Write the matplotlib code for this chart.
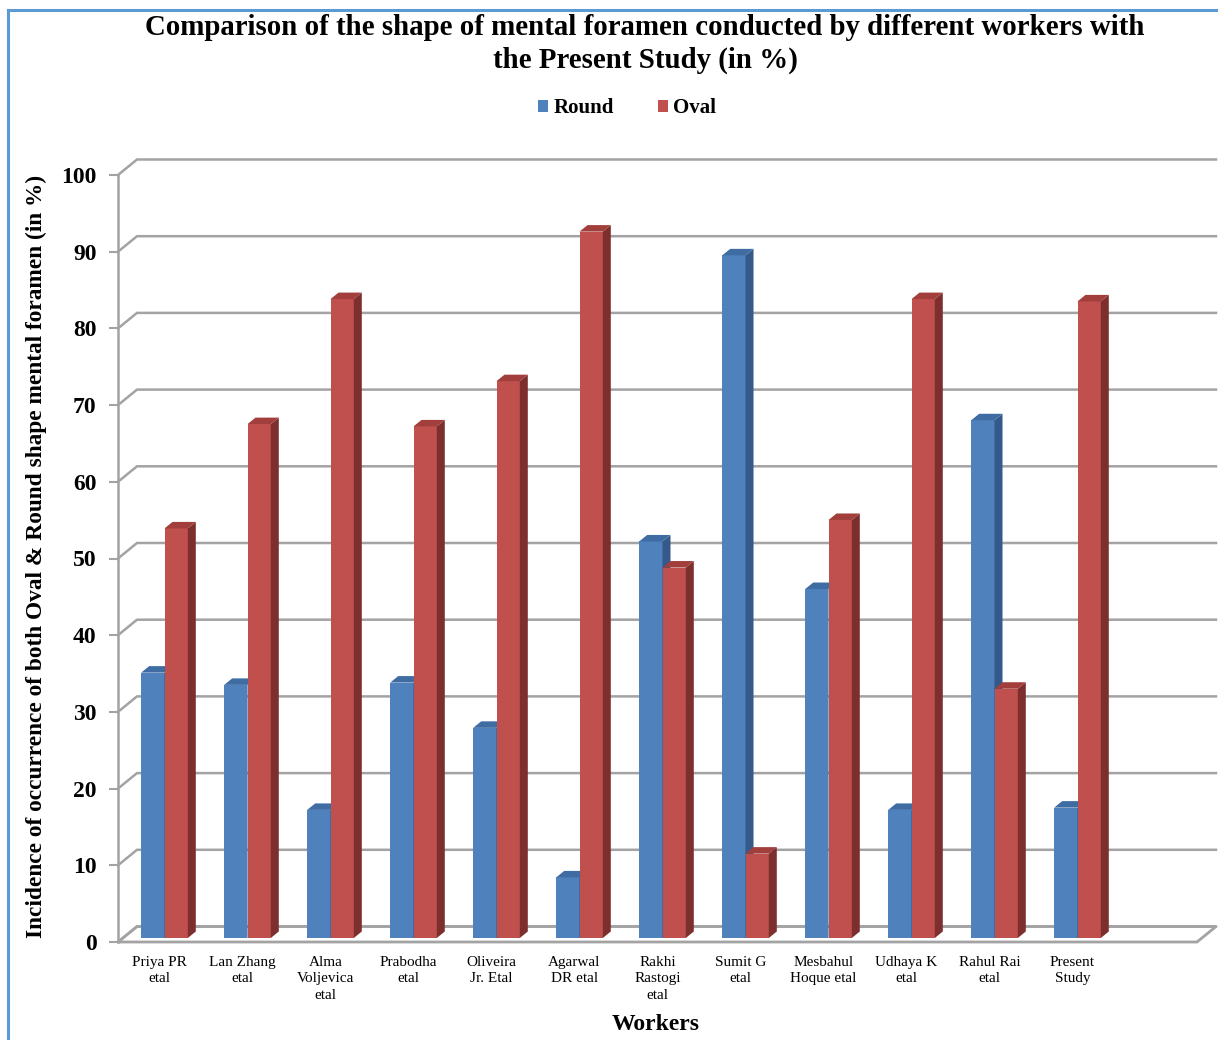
import matplotlib
matplotlib.use("Agg")
import matplotlib.pyplot as plt
from matplotlib.patches import Polygon, Patch
from matplotlib.lines import Line2D

# ---- data -------------------------------------------------------------
workers = [
    "Priya PR\netal", "Lan Zhang\netal", "Alma\nVoljevica\netal", "Prabodha\netal",
    "Oliveira\nJr. Etal", "Agarwal\nDR etal", "Rakhi\nRastogi\netal", "Sumit G\netal",
    "Mesbahul\nHoque etal", "Udhaya K\netal", "Rahul Rai\netal", "Present\nStudy",
]
round_pct = [34.6, 33.0, 16.7, 33.3, 27.4, 7.9, 51.7, 89.0, 45.5, 16.7, 67.5, 17.0]
oval_pct = [53.4, 67.0, 83.3, 66.7, 72.6, 92.1, 48.3, 11.0, 54.5, 83.3, 32.5, 83.0]
y_ticks = list(range(0, 101, 10))
n_slots = 13  # category slots on the floor (last one left empty)

# ---- styling ----------------------------------------------------------
SERIF = ["Liberation Serif", "DejaVu Serif"]
BLUE = dict(front="#4F81BD", side="#35598A", top="#3E6CA3")
RED = dict(front="#C0504D", side="#7D2F2D", top="#A23E3B")
GRID = "#A3A3A3"

W_PX, H_PX, DPI = 1218, 1040, 100
fig = plt.figure(figsize=(W_PX / DPI, H_PX / DPI), dpi=DPI)
fig.patch.set_facecolor("white")

ax_l, ax_r, ax_b, ax_t = 118, 1197, 942, 175  # front plane in pixels
ax = fig.add_axes([ax_l / W_PX, 1 - ax_b / H_PX, (ax_r - ax_l) / W_PX, (ax_b - ax_t) / H_PX])
ax.set_xlim(-0.5, n_slots - 0.5)
ax.set_ylim(0, 100)
ax.patch.set_alpha(0)

# pixel -> data conversions for the 3-D depth offsets
px_x = (ax_r - ax_l) / n_slots
px_y = (ax_b - ax_t) / 100.0
def dx(p):
    return p / px_x
def dy(p):
    return p / px_y

FULL_X, FULL_Y = dx(19), dy(15.5)      # floor depth
OFF_X, OFF_Y = dx(5), dy(4)            # bar front face behind floor edge
BAR_X, BAR_Y = dx(8), dy(6.5)          # bar depth
bar_w = dx(23.3)

# ---- walls and floor --------------------------------------------------
x0, x1 = -0.5, n_slots - 0.5
floor = Polygon([(x0, 0), (x1, 0), (x1 + FULL_X, FULL_Y), (x0 + FULL_X, FULL_Y)],
                closed=True, facecolor="white", edgecolor=GRID, lw=2.0,
                clip_on=False, zorder=1)
ax.add_patch(floor)
for v in y_ticks:
    ax.plot([x0, x0 + FULL_X, x1 + FULL_X], [v, v + FULL_Y, v + FULL_Y],
            color=GRID, lw=1.8, clip_on=False, zorder=1, solid_joinstyle="miter")

# ---- 3-D style bars ---------------------------------------------------
def draw_bars(xs, vals, col, z):
    ax.bar(xs, vals, width=bar_w, bottom=OFF_Y, color=col["front"],
           edgecolor="none", zorder=z, clip_on=False)
    for xc, v in zip(xs, vals):
        xl, xr = xc - bar_w / 2, xc + bar_w / 2
        yb, yt = OFF_Y, OFF_Y + v
        side = Polygon([(xr, yb), (xr, yt), (xr + BAR_X, yt + BAR_Y), (xr + BAR_X, yb + BAR_Y)],
                       closed=True, facecolor=col["side"], edgecolor="none",
                       zorder=z, clip_on=False)
        top = Polygon([(xl, yt), (xr, yt), (xr + BAR_X, yt + BAR_Y), (xl + BAR_X, yt + BAR_Y)],
                      closed=True, facecolor=col["top"], edgecolor="none",
                      zorder=z, clip_on=False)
        ax.add_patch(side)
        ax.add_patch(top)

idx = list(range(len(workers)))
draw_bars([i - bar_w / 2 + OFF_X for i in idx], round_pct, BLUE, 3)
draw_bars([i + bar_w / 2 + OFF_X for i in idx], oval_pct, RED, 4)

# ---- axes -------------------------------------------------------------
for s in ("top", "right", "bottom"):
    ax.spines[s].set_visible(False)
ax.spines["left"].set_color(GRID)
ax.spines["left"].set_linewidth(1.8)
ax.spines["left"].set_zorder(2)

ax.set_yticks(y_ticks)
ax.set_yticklabels([str(v) for v in y_ticks], fontfamily=SERIF, fontweight="bold", fontsize=17)
ax.tick_params(axis="y", length=6.5, width=1.5, color=GRID, pad=9)

ax.set_xticks(idx)
ax.set_xticklabels(workers, fontfamily=SERIF, fontsize=11, linespacing=1.35)
ax.tick_params(axis="x", length=0, pad=10)

# ---- text -------------------------------------------------------------
fig.text(645 / W_PX, 1 - 44 / H_PX,
         "Comparison of the shape of mental foramen conducted by different workers with\nthe Present Study (in %)",
         ha="center", va="center", fontfamily=SERIF, fontweight="bold", fontsize=20.8,
         linespacing=1.3)
fig.text(36 / W_PX, 1 - 556 / H_PX,
         "Incidence of occurrence of both Oval & Round shape mental foramen (in %)",
         rotation=90, ha="center", va="center", fontfamily=SERIF, fontweight="bold", fontsize=16.8)
fig.text(656 / W_PX, 1 - 1025 / H_PX, "Workers", ha="center", va="center",
         fontfamily=SERIF, fontweight="bold", fontsize=17)

handles = [Patch(facecolor=BLUE["front"], edgecolor="none"),
           Patch(facecolor=RED["front"], edgecolor="none")]
fig.legend(handles, ["Round", "Oval"], loc="center", ncol=2,
           bbox_to_anchor=(627 / W_PX, 1 - 108 / H_PX), frameon=False,
           prop=dict(family=SERIF, weight="bold", size=15),
           handlelength=0.5, handleheight=0.5, handletextpad=0.25, columnspacing=2.1)

# ---- outer frame ------------------------------------------------------
frame_col = "#5B9BD5"
fig.add_artist(Line2D([8 / W_PX, 8 / W_PX], [0, 1 - 10 / H_PX], color=frame_col, lw=2.2))
fig.add_artist(Line2D([8 / W_PX, 1], [1 - 10 / H_PX, 1 - 10 / H_PX], color=frame_col, lw=2.2))

fig.savefig("out.png", dpi=DPI, facecolor="white")
